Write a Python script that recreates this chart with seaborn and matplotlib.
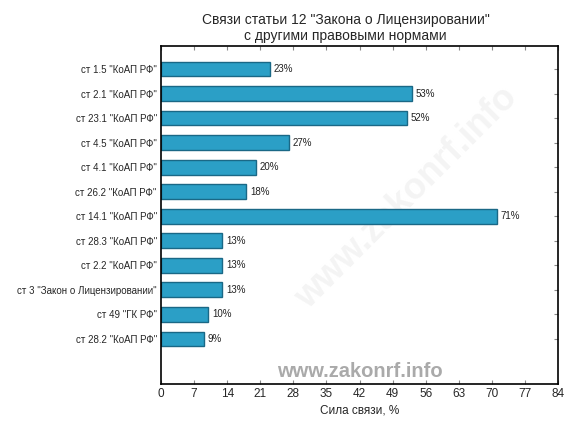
import matplotlib
matplotlib.use("Agg")
import matplotlib.pyplot as plt
import seaborn as sns
import pandas as pd

categories = [
    'ст 1.5 "КоАП РФ"',
    'ст 2.1 "КоАП РФ"',
    'ст 23.1 "КоАП РФ"',
    'ст 4.5 "КоАП РФ"',
    'ст 4.1 "КоАП РФ"',
    'ст 26.2 "КоАП РФ"',
    'ст 14.1 "КоАП РФ"',
    'ст 28.3 "КоАП РФ"',
    'ст 2.2 "КоАП РФ"',
    'ст 3 "Закон о Лицензировании"',
    'ст 49 "ГК РФ"',
    'ст 28.2 "КоАП РФ"',
]
values = [23, 53, 52, 27, 20, 18, 71, 13, 13, 13, 10, 9]
x_ticks = list(range(0, 85, 7))

sns.set_style("white")
plt.rcParams['font.family'] = ['Liberation Sans', 'DejaVu Sans']

df = pd.DataFrame({'cat': categories, 'val': values})

fig = plt.figure(figsize=(5.76, 4.32), dpi=100)
ax = fig.add_axes([0.2795, 0.111, 0.6895, 0.7825])

sns.barplot(data=df, x='val', y='cat', orient='h', color='#2b9fc6',
            saturation=1, width=0.6, edgecolor='#1a6886', linewidth=1.0, ax=ax)

for i, v in enumerate(values):
    ax.text(v + 0.8, i, f'{v}%', va='center', ha='left', fontsize=7, color='#222222')

ax.set_xlim(0, 84)
ax.set_ylim(12.84, -0.94)
ax.set_xticks(x_ticks)
ax.set_xticklabels([str(t) for t in x_ticks], fontsize=8.5)
ax.tick_params(axis='y', labelsize=7)
ax.tick_params(direction='in', length=3, color='#888888', top=True, right=True,
               bottom=True, left=True, pad=3)
ax.set_xlabel('Сила связи, %', fontsize=8.5, labelpad=3)
ax.set_ylabel('')
for s in ax.spines.values():
    s.set_color('black')
    s.set_linewidth(1.2)

fig.suptitle('Связи статьи 12 "Закона о Лицензировании"\nс другими правовыми нормами',
             x=0.60, y=0.97, fontsize=10, linespacing=1.2)

# watermarks
ax.text(0.62, 0.55, 'www.zakonrf.info', transform=ax.transAxes, fontsize=26,
        fontweight='bold', color='#f4f4f4', rotation=45, ha='center', va='center',
        zorder=0.5)
ax.text(0.5, 0.036, 'www.zakonrf.info', transform=ax.transAxes, fontsize=14.5,
        fontweight='bold', color='#aaaaaa', ha='center', va='center')

fig.savefig('out.png', dpi=100)
plt.close()
